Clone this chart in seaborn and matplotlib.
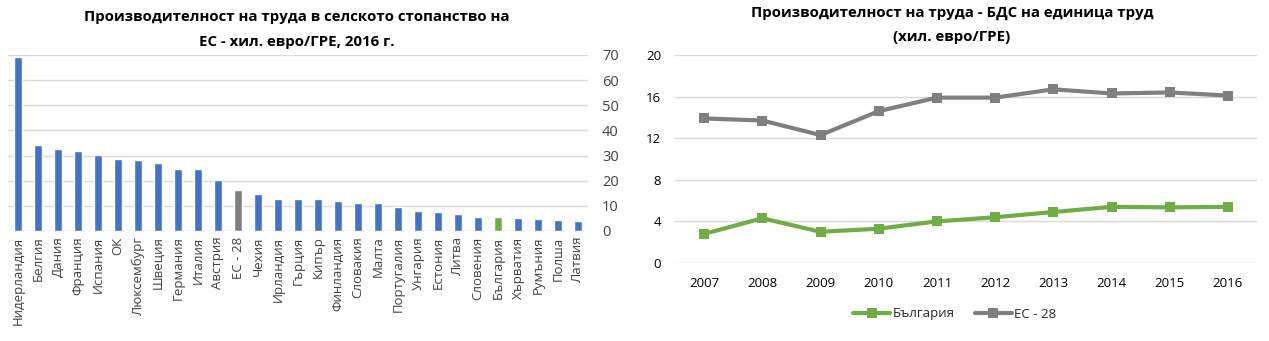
import matplotlib
matplotlib.use("Agg")
import matplotlib.pyplot as plt
import seaborn as sns
import pandas as pd
from matplotlib.lines import Line2D

sns.set_theme(style="white")
plt.rcParams['font.family'] = ['Open Sans', 'DejaVu Sans']

# ---- data: left chart ----
countries = ["Нидерландия", "Белгия", "Дания", "Франция", "Испания", "ОК", "Люксембург",
             "Швеция", "Германия", "Италия", "Австрия", "ЕС - 28", "Чехия", "Ирландия",
             "Гърция", "Кипър", "Финландия", "Словакия", "Малта", "Португалия", "Унгария",
             "Естония", "Литва", "Словения", "България", "Хърватия", "Румъния", "Полша", "Латвия"]
productivity_2016 = [69.4, 34.2, 32.6, 31.8, 30.2, 28.6, 28.2, 27.1, 24.7, 24.7, 20.3, 16.3,
                     14.7, 12.7, 12.7, 12.7, 11.9, 11.1, 11.1, 9.5, 8.0, 7.6, 6.8, 5.6, 5.6,
                     5.2, 4.8, 4.4, 4.0]
left_ticks = [0, 10, 20, 30, 40, 50, 60, 70]

# ---- data: right chart ----
years = ["2007", "2008", "2009", "2010", "2011", "2012", "2013", "2014", "2015", "2016"]
bulgaria = [2.8, 4.3, 3.0, 3.3, 4.0, 4.4, 4.9, 5.4, 5.35, 5.4]
eu28 = [13.9, 13.7, 12.3, 14.6, 15.9, 15.9, 16.7, 16.3, 16.4, 16.1]
right_ticks = [0, 4, 8, 12, 16, 20]

BLUE = "#4472C4"
GRAY_BAR = "#7F7F7F"
GREEN = "#70AD47"
GRAY_LINE = "#7F7F7F"
GRID = "#D9D9D9"
TXT = "#404040"

fig = plt.figure(figsize=(12.69, 3.41), dpi=100)

# ---------------- left chart ----------------
ax1 = fig.add_axes([8/1269, (341-231)/341, 580/1269, 176/341])
bar_colors = {c: (GRAY_BAR if c == "ЕС - 28" else GREEN if c == "България" else BLUE) for c in countries}
df1 = pd.DataFrame({"country": countries, "value": productivity_2016})
sns.barplot(data=df1, x="country", y="value", hue="country", palette=bar_colors,
            legend=False, width=0.37, ax=ax1, order=countries, saturation=1)
ax1.set_xlim(-0.5, len(countries) - 0.5)
ax1.set_ylim(0, 70)
ax1.set_yticks(left_ticks)
ax1.yaxis.tick_right()
ax1.tick_params(axis='y', length=0, pad=10, labelsize=10.5, labelcolor=TXT)
ax1.tick_params(axis='x', length=0, pad=4, labelsize=9.5, labelcolor=TXT, rotation=90)
ax1.set_xlabel("")
ax1.set_ylabel("")
ax1.grid(axis='y', color=GRID, linewidth=1)
ax1.set_axisbelow(True)
for s in ax1.spines.values():
    s.set_visible(False)
for lbl in ax1.get_yticklabels():
    lbl.set_horizontalalignment('left')

fig.text(297/1269, 1 - 17/341, "Производителност на труда в селското стопанство на",
         ha='center', va='center', fontsize=10.8, fontweight='bold', color='black')
fig.text(297/1269, 1 - 42/341, "ЕС - хил. евро/ГРЕ, 2016 г.",
         ha='center', va='center', fontsize=10.8, fontweight='bold', color='black')

# ---------------- right chart ----------------
ax2 = fig.add_axes([675/1269, (341-263)/341, 582/1269, 208/341])
df2 = pd.DataFrame({"year": years * 2,
                    "value": bulgaria + eu28,
                    "series": ["България"] * len(years) + ["ЕС - 28"] * len(years)})
sns.lineplot(data=df2, x="year", y="value", hue="series",
             palette={"България": GREEN, "ЕС - 28": GRAY_LINE},
             marker="s", markersize=7, markeredgewidth=0, linewidth=3,
             legend=False, ax=ax2, sort=False)
ax2.set_xlim(-0.5, len(years) - 0.5)
ax2.set_ylim(0, 20)
ax2.set_yticks(right_ticks)
ax2.tick_params(axis='y', length=0, pad=10, labelsize=9.5, labelcolor='black')
ax2.tick_params(axis='x', length=0, pad=10, labelsize=9.5, labelcolor='black')
ax2.set_xlabel("")
ax2.set_ylabel("")
ax2.grid(axis='y', color=GRID, linewidth=1)
ax2.set_axisbelow(True)
for s in ax2.spines.values():
    s.set_visible(False)

handles = [Line2D([], [], color=GREEN, lw=3, marker='s', markersize=7, markeredgewidth=0),
           Line2D([], [], color=GRAY_LINE, lw=3, marker='s', markersize=7, markeredgewidth=0)]
fig.legend(handles, ["България", "ЕС - 28"], loc='center', bbox_to_anchor=(955/1269, 1 - 314/341),
           ncol=2, frameon=False, fontsize=9.5, handlelength=2.8, columnspacing=1.5,
           handletextpad=0.2)

fig.text(952/1269, 1 - 13/341, "Производителност на труда - БДС на единица труд",
         ha='center', va='center', fontsize=10.8, fontweight='bold', color='black')
fig.text(952/1269, 1 - 37/341, "(хил. евро/ГРЕ)",
         ha='center', va='center', fontsize=10.8, fontweight='bold', color='black')

fig.savefig("out.png", dpi=100)
